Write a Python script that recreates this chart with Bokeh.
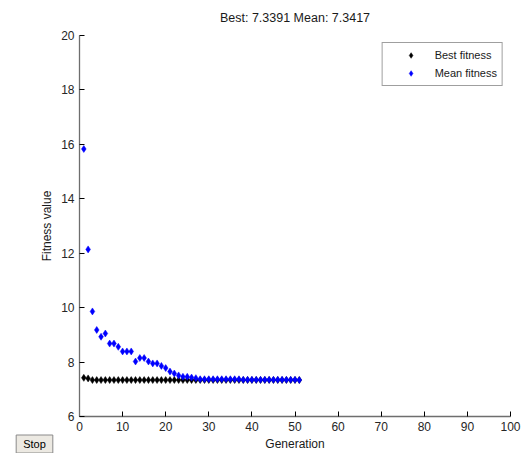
from bokeh.plotting import figure
from bokeh.models import Range1d, FixedTicker, Legend, LegendItem, Label, ColumnDataSource
from bokeh.embed import file_html
from bokeh.resources import INLINE

title_text = "Best: 7.3391 Mean: 7.3417"
x_label = "Generation"
y_label = "Fitness value"
legend_labels = ["Best fitness", "Mean fitness"]
button_text = "Stop"
x_ticks = [0, 10, 20, 30, 40, 50, 60, 70, 80, 90, 100]
y_ticks = [6, 8, 10, 12, 14, 16, 18, 20]

generation = list(range(1, 52))
best_fitness = [7.42, 7.40, 7.34, 7.34, 7.34, 7.34, 7.34, 7.34, 7.34, 7.34,
                7.34, 7.34, 7.34, 7.34, 7.34, 7.34, 7.34, 7.34, 7.34, 7.34,
                7.34, 7.34, 7.34, 7.34, 7.34, 7.34, 7.34, 7.34, 7.34, 7.34,
                7.34, 7.34, 7.34, 7.34, 7.34, 7.34, 7.34, 7.34, 7.34, 7.34,
                7.34, 7.34, 7.34, 7.34, 7.34, 7.34, 7.34, 7.34, 7.34, 7.34,
                7.3391]
mean_fitness = [15.83, 12.14, 9.86, 9.18, 8.93, 9.05, 8.68, 8.68, 8.56, 8.39,
                8.39, 8.39, 8.02, 8.15, 8.15, 8.02, 7.95, 7.95, 7.86, 7.78,
                7.65, 7.58, 7.51, 7.46, 7.46, 7.43, 7.41, 7.37, 7.37, 7.37,
                7.37, 7.37, 7.37, 7.37, 7.37, 7.37, 7.37, 7.35, 7.35, 7.35,
                7.35, 7.35, 7.35, 7.35, 7.35, 7.35, 7.35, 7.35, 7.35, 7.35,
                7.3417]

FONT = "Liberation Sans"

p = figure(width=524, height=453, output_backend="svg", toolbar_location=None,
           x_range=Range1d(0, 100), y_range=Range1d(6, 20),
           min_border_left=79, min_border_right=14, min_border_top=35, min_border_bottom=37,
           title=title_text)
p.outline_line_color = None
p.xgrid.visible = False
p.ygrid.visible = False
p.background_fill_color = "white"
p.border_fill_color = "white"

p.title.align = "center"
p.title.vertical_align = "top"
p.title.text_font = FONT
p.title.text_font_size = "12.5px"
p.title.text_font_style = "normal"
p.title.text_color = "#1a1a1a"
p.title.standoff = 18

for ax, ticks in ((p.xaxis[0], x_ticks), (p.yaxis[0], y_ticks)):
    ax.ticker = FixedTicker(ticks=ticks)
    ax.major_tick_in = 5
    ax.major_tick_out = 0
    ax.minor_tick_line_color = None
    ax.major_tick_line_color = "#000000"
    ax.axis_line_color = "#6e6e6e"
    ax.axis_line_width = 1.3
    ax.major_label_text_font = FONT
    ax.major_label_text_font_size = "12px"
    ax.major_label_text_color = "#262626"
    ax.axis_label_text_font = FONT
    ax.axis_label_text_font_size = "12px"
    ax.axis_label_text_font_style = "normal"
    ax.axis_label_text_color = "#1a1a1a"

p.xaxis.axis_label = x_label
p.yaxis.axis_label = y_label
p.xaxis.major_label_standoff = 5
p.xaxis.axis_label_standoff = 3
p.yaxis.major_label_standoff = 5
p.yaxis.axis_label_standoff = 4

src = ColumnDataSource(dict(g=generation, best=best_fitness, mean=mean_fitness))
r_best = p.scatter("g", "best", source=src, marker="diamond", size=7,
                   fill_color="#000000", line_color="#000000", line_width=0.5)
r_mean = p.scatter("g", "mean", source=src, marker="diamond", size=7,
                   fill_color="#0000ff", line_color="#0000ff", line_width=0.5)

legend = Legend(items=[LegendItem(label=legend_labels[0], renderers=[r_best]),
                       LegendItem(label=legend_labels[1], renderers=[r_mean])],
                location="top_right", margin=7, padding=5, spacing=4,
                glyph_width=46, glyph_height=14, label_height=14, label_standoff=1,
                label_text_font=FONT, label_text_font_size="11px",
                label_text_color="#1a1a1a",
                border_line_color="#404040", border_line_width=1,
                background_fill_color="white", background_fill_alpha=1.0)
p.add_layout(legend, "center")

# "Stop" button: a boxed label in its own panel left of the y axis
stop = Label(x=34, y=-27.5, x_units="screen", y_units="screen", text=button_text,
             text_align="center", text_baseline="middle",
             text_font=FONT, text_font_size="11px", text_color="#000000",
             background_fill_color="#ece9e2", border_line_color="#8a8a8a",
             padding=dict(left=7, right=7, top=3, bottom=3))
p.add_layout(stop, "left")

open("out.html", "w").write(file_html(p, INLINE))
